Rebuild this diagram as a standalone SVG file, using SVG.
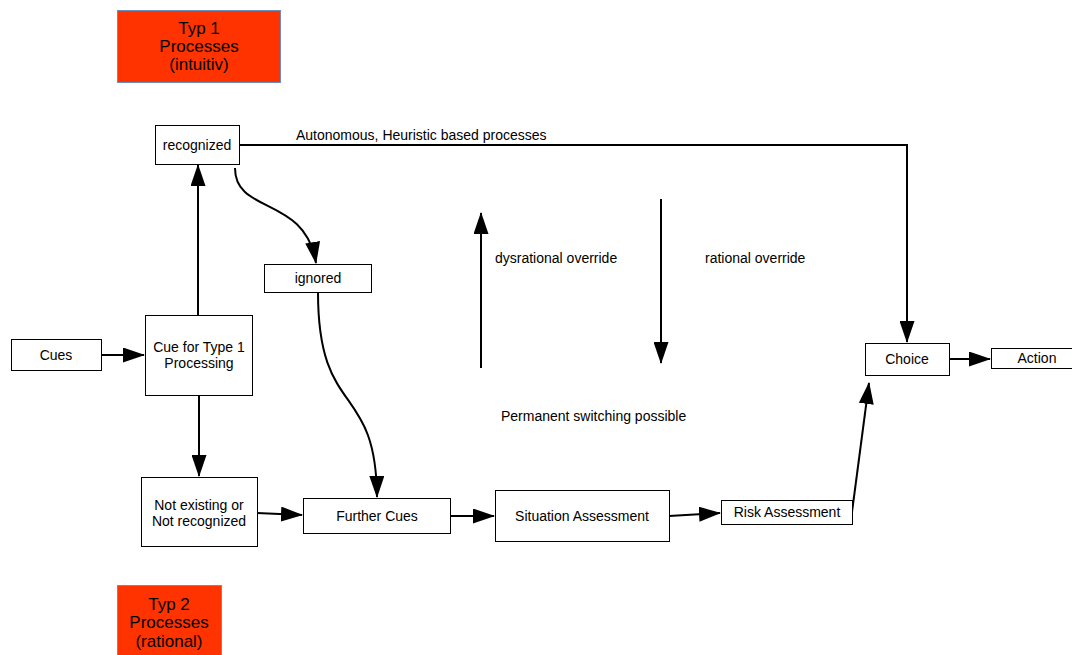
<svg xmlns="http://www.w3.org/2000/svg" width="1072" height="655" viewBox="0 0 1072 655">
<defs>
<marker id="ah" viewBox="0 0 22 15" refX="21" refY="7.5" markerWidth="22" markerHeight="15" markerUnits="userSpaceOnUse" orient="auto">
<path d="M0,0 L22,7.5 L0,15 Z" fill="#000"/>
</marker>
<style>
.n{fill:#fff;stroke:#000;stroke-width:1}
.r{fill:#ff3300;stroke:#6c8ebf;stroke-width:1}
.t{font-family:"Liberation Sans",Arial,sans-serif;font-size:14px;fill:#000;text-anchor:middle;dominant-baseline:central}
.tl{font-family:"Liberation Sans",Arial,sans-serif;font-size:14px;fill:#000;dominant-baseline:central}
.tb{font-family:"Liberation Sans",Arial,sans-serif;font-size:17px;fill:#000;text-anchor:middle;dominant-baseline:central}
.c{fill:none;stroke:#000;stroke-width:2}
</style>
</defs>
<rect width="1072" height="655" fill="#fff"/>
<g id="typ1">
<rect class="r" x="117.5" y="10.5" width="163" height="72"/>
<text class="tb" x="199" y="28">Typ 1</text>
<text class="tb" x="199" y="46">Processes</text>
<text class="tb" x="199" y="64">(intuitiv)</text>
</g>
<g id="typ2">
<rect class="r" x="117.5" y="585.5" width="104" height="72"/>
<text class="tb" x="169" y="604">Typ 2</text>
<text class="tb" x="169" y="622">Processes</text>
<text class="tb" x="169" y="641">(rational)</text>
</g>
<g id="connectors">
<path class="c" d="M239,145 L907,145 L907,342" marker-end="url(#ah)"/>
<path class="c" d="M198,315 L198,165" marker-end="url(#ah)"/>
<path class="c" d="M235,168 C235,215 305,195 316,263" marker-end="url(#ah)"/>
<path class="c" d="M318,292 C318,420 376,380 377,497" marker-end="url(#ah)"/>
<path class="c" d="M101,355 L144,355" marker-end="url(#ah)"/>
<path class="c" d="M199,395 L199,476" marker-end="url(#ah)"/>
<path class="c" d="M257,513 L302,515" marker-end="url(#ah)"/>
<path class="c" d="M450,516 L494,516" marker-end="url(#ah)"/>
<path class="c" d="M669,516 L720,513" marker-end="url(#ah)"/>
<path class="c" d="M852,512 L869,383" marker-end="url(#ah)"/>
<path class="c" d="M949,359 L990,359" marker-end="url(#ah)"/>
<path class="c" d="M481,368 L481,213" marker-end="url(#ah)"/>
<path class="c" d="M661,199 L661,363" marker-end="url(#ah)"/>
</g>
<g id="labels">
<text class="tl" x="296" y="135">Autonomous, Heuristic based processes</text>
<text class="tl" x="495" y="258">dysrational override</text>
<text class="tl" x="705" y="258">rational override</text>
<text class="tl" x="501" y="416">Permanent switching possible</text>
</g>
<g id="recognized">
<rect class="n" x="155.5" y="125.5" width="84" height="39"/>
<text class="t" x="197" y="145">recognized</text>
</g>
<g id="ignored">
<rect class="n" x="264.5" y="264.5" width="107" height="28"/>
<text class="t" x="318" y="278">ignored</text>
</g>
<g id="cues">
<rect class="n" x="11.5" y="339.5" width="90" height="31"/>
<text class="t" x="56" y="355">Cues</text>
</g>
<g id="cue1">
<rect class="n" x="145.5" y="315.5" width="107" height="80"/>
<text class="t" x="199" y="347">Cue for Type 1</text>
<text class="t" x="199" y="363">Processing</text>
</g>
<g id="notexisting">
<rect class="n" x="141.5" y="477.5" width="116" height="69"/>
<text class="t" x="199" y="505">Not existing or</text>
<text class="t" x="199" y="521">Not recognized</text>
</g>
<g id="further">
<rect class="n" x="303.5" y="498.5" width="147" height="35"/>
<text class="t" x="377" y="516">Further Cues</text>
</g>
<g id="situation">
<rect class="n" x="495.5" y="490.5" width="174" height="51"/>
<text class="t" x="582" y="516">Situation Assessment</text>
</g>
<g id="risk">
<rect class="n" x="721.5" y="500.5" width="131" height="24"/>
<text class="t" x="787" y="512">Risk Assessment</text>
</g>
<g id="choice">
<rect class="n" x="865.5" y="343.5" width="84" height="32"/>
<text class="t" x="907" y="359">Choice</text>
</g>
<g id="action">
<rect class="n" x="991.5" y="348.5" width="82" height="20"/>
<text class="t" x="1037" y="358">Action</text>
</g>
</svg>
